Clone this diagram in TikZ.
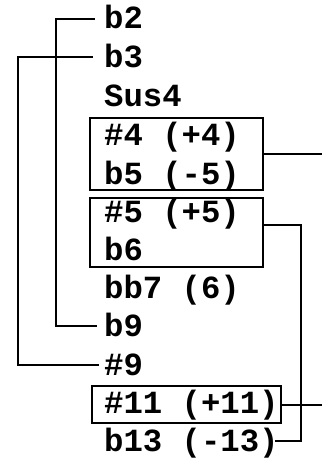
\documentclass[tikz,border=0pt]{standalone}
\usepackage{fontspec}
\setmonofont{Liberation Mono}
\begin{document}
\begin{tikzpicture}[x=1pt,y=-1pt,
  lbl/.style={anchor=base west,inner sep=0pt,text height=20pt,text depth=0pt,
    font=\ttfamily\bfseries\fontsize{32.3}{36}\selectfont},
  grp/.style={draw,line width=2pt,inner sep=0pt},
  conn/.style={draw,line width=2pt}]
\useasboundingbox (0,0) rectangle (322,460);
% groups
\node[grp,minimum width=173pt,minimum height=72pt] (box1) at (176.5,154) {};
\node[grp,minimum width=173pt,minimum height=69pt] (box2) at (176.5,232.5) {};
\node[grp,minimum width=189pt,minimum height=37pt] (box3) at (186.5,404.5) {};
% labels
\node[lbl] (b2)   at (104,29)  {b2};
\node[lbl] (b3)   at (104,67)  {b3};
\node[lbl] (sus4) at (104,106) {Sus4};
\node[lbl] (s4)   at (104,145) {\#4 (+4)};
\node[lbl] (b5)   at (104,184) {b5 (-5)};
\node[lbl] (s5)   at (104,222) {\#5 (+5)};
\node[lbl] (b6)   at (104,260) {b6};
\node[lbl] (bb7)  at (104,298) {bb7 (6)};
\node[lbl] (b9)   at (104,336) {b9};
\node[lbl] (s9)   at (104,375) {\#9};
\node[lbl] (s11)  at (104,413) {\#11 (+11)};
\node[lbl] (b13)  at (104,451) {b13 (-13)};
% free ends
\coordinate (e1) at (322,154);
\coordinate (e3) at (322,404.5);
% connectors
\draw[conn,shorten <=9pt,shorten >=7pt] (b2.west) -- ++(-48,0) |- (b9.west);
\draw[conn,shorten <=11pt,shorten >=5pt] (b3.west) -- ++(-86,0) |- (s9.west);
\draw[conn] (box1.east) -- (e1);
\draw[conn] ([yshift=8pt]box2.east) -- ++(37,0) |- ([xshift=-4pt]b13.east);
\draw[conn] (box3.east) -- (e3);
\end{tikzpicture}
\end{document}
